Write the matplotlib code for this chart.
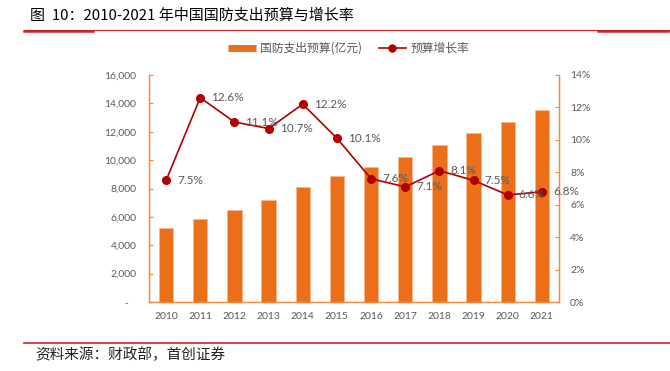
import matplotlib
matplotlib.use("Agg")
import matplotlib.pyplot as plt
from matplotlib.lines import Line2D
from matplotlib.ticker import FuncFormatter, MultipleLocator

plt.rcParams['font.family'] = ['Lato', 'Noto Sans CJK SC', 'DejaVu Sans']

years = ['2010', '2011', '2012', '2013', '2014', '2015', '2016', '2017', '2018', '2019', '2020', '2021']
budget = [5190, 5836, 6503, 7202, 8082, 8869, 9544, 10226, 11070, 11899, 12680, 13553]
growth = [7.5, 12.6, 11.1, 10.7, 12.2, 10.1, 7.6, 7.1, 8.1, 7.5, 6.6, 6.8]

title = '图  10：2010-2021 年中国国防支出预算与增长率'
source = '资料来源：财政部，首创证券'
bar_label = '国防支出预算(亿元)'
line_label = '预算增长率'

BAR = '#EC6F1A'
SPINE = '#F08A3C'
LINE = '#B00000'
GRAY = '#595959'
RED = '#CC2229'

W, H = 670, 371
fig = plt.figure(figsize=(6.7, 3.71), dpi=100)
ax = fig.add_axes([149 / W, 1 - 302 / H, 410 / W, 227 / H])
ax2 = ax.twinx()

x = list(range(len(years)))
ax.bar(x, budget, width=0.42, color=BAR, edgecolor='#F7B98A', linewidth=0.4, zorder=2)
ax.set_xlim(-0.5, len(years) - 0.5)
ax.set_ylim(0, 16000)
ax.yaxis.set_major_locator(MultipleLocator(2000))
ax.yaxis.set_major_formatter(FuncFormatter(lambda v, p: '-   ' if v == 0 else f'{int(v):,}'))
ax.set_xticks(x)
ax.set_xticklabels(years)

ax2.plot(x, growth, color=LINE, lw=1.2, marker='o', markersize=5.5, zorder=3)
ax2.set_ylim(0, 14)
ax2.yaxis.set_major_locator(MultipleLocator(2))
ax2.yaxis.set_major_formatter(FuncFormatter(lambda v, p: f'{int(round(v))}%'))
for xi, g in zip(x, growth):
    ax2.annotate(f'{g}%', (xi, g), xytext=(8, 0), textcoords='offset points',
                 ha='left', va='center', fontsize=8.5, color=GRAY)

for a in (ax, ax2):
    for s in ('left', 'right', 'bottom'):
        a.spines[s].set_color(SPINE)
        a.spines[s].set_linewidth(0.9)
    a.spines['top'].set_visible(False)

ax.tick_params(axis='y', direction='in', length=3, color=SPINE, labelsize=7.5,
               labelcolor=GRAY, pad=9)
ax2.tick_params(axis='y', direction='in', length=3, color=SPINE, labelsize=7.5,
                labelcolor=GRAY, pad=8)
ax.tick_params(axis='x', length=0, labelsize=7.5, labelcolor=GRAY, pad=7)

# legend
handles = [Line2D([0], [0], color=BAR, lw=5, solid_capstyle='butt'),
           Line2D([0], [0], color=LINE, lw=1.2, marker='o', markersize=5)]
fig.legend(handles, [bar_label, line_label], loc='center', bbox_to_anchor=(349 / W, 1 - 48.5 / H),
           ncol=2, frameon=False, labelcolor=GRAY, handlelength=2.3,
           handletextpad=0.4, columnspacing=1.4,
           prop={'family': ['Noto Sans CJK SC', 'DejaVu Sans'], 'size': 8.5})

# title and rules
fig.text(30 / W, 1 - 16 / H, title, fontsize=10.8, color='black', ha='left', va='center',
         family=['Noto Sans CJK SC', 'DejaVu Sans'])
fig.add_artist(Line2D([24 / W, 1.0], [1 - 30 / H] * 2, color=RED, lw=0.8))
fig.add_artist(Line2D([24 / W, 93 / W], [1 - 30.5 / H] * 2, color=RED, lw=1.8))
fig.add_artist(Line2D([598 / W, 668 / W], [1 - 30.5 / H] * 2, color=RED, lw=1.8))
fig.add_artist(Line2D([24 / W, 1.0], [1 - 343 / H] * 2, color=RED, lw=1.2))
fig.text(35 / W, 1 - 355 / H, source, fontsize=10.5, color='#222222', ha='left', va='center',
         style='italic', family=['Noto Sans CJK SC', 'DejaVu Sans'])

fig.savefig('out.png', dpi=100)
